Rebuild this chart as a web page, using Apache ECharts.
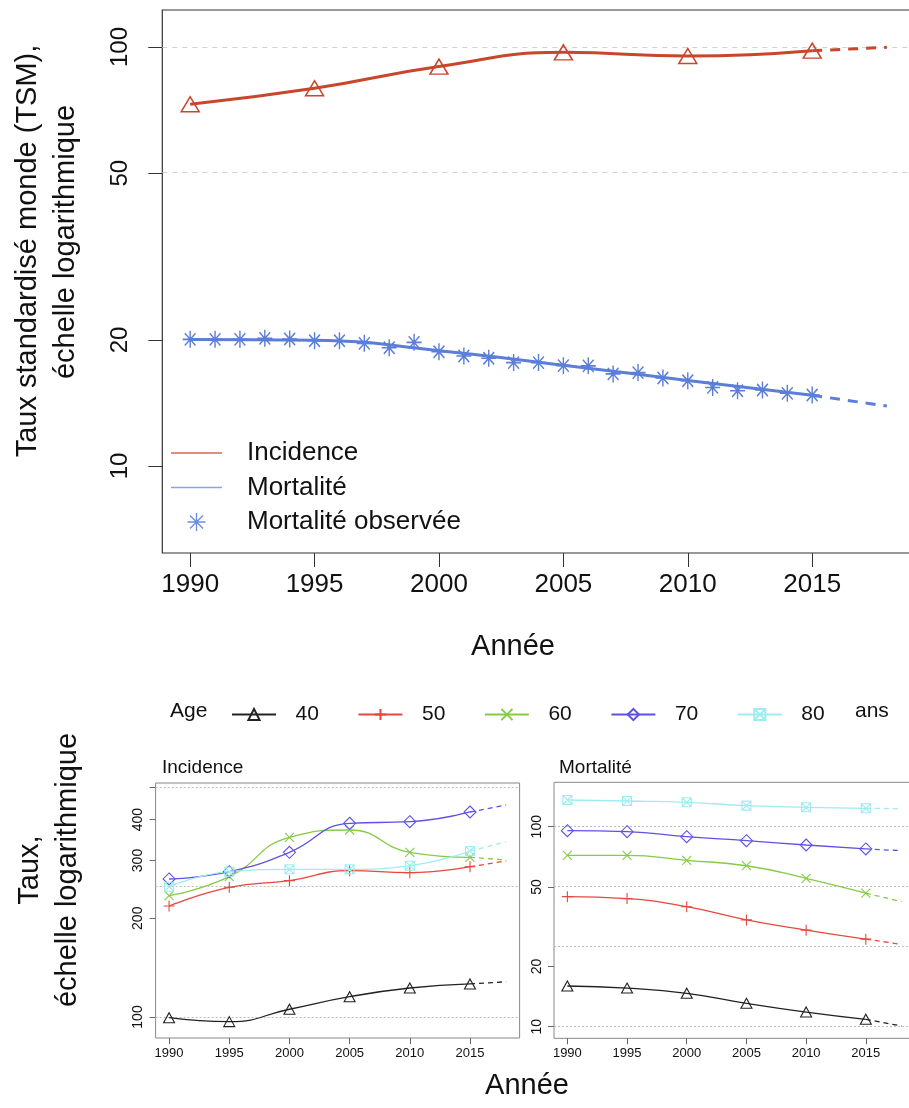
<!DOCTYPE html>
<html><head><meta charset="utf-8">
<script src="https://cdn.jsdelivr.net/npm/echarts@6/dist/echarts.min.js"></script>
<style>html,body{margin:0;padding:0;background:#fff}#c{width:909px;height:1108px}</style>
</head><body><div id="c"></div>
<script>
// ---------- DATA ----------
const years5 = [1990, 1995, 2000, 2005, 2010, 2015];
const yearsObs = [1990,1991,1992,1993,1994,1995,1996,1997,1998,1999,2000,2001,2002,2003,2004,2005,2006,2007,2008,2009,2010,2011,2012,2013,2014,2015];
const yearsProj = [2015, 2018];
const yearTicks = [1990, 1995, 2000, 2005, 2010, 2015];

// top chart (TSM)
const incidence = [73.0, 79.7, 89.8, 97.1, 95.2, 98.0];
const incidenceProjEnd = 99.8;
const mortalityFit = [20.05, 19.95, 18.85, 17.4, 16.0, 14.75];
const mortalityProjEnd = 13.9;
const mortalityObs = [20.06,20.06,20.06,20.17,20.1,19.91,19.91,19.62,19.15,19.73,18.74,18.31,18.08,17.65,17.65,17.36,17.34,16.59,16.71,16.22,15.98,15.40,15.12,15.18,14.91,14.77];
const topTicks = [10, 20, 50, 100];
const topGridVals = [50, 100];

// bottom panels by age
const ages = ['40', '50', '60', '70', '80'];
const inc40 = [99.5, 96.8, 105.6, 115.3, 122.6, 126.1];
const inc50 = [218, 248.6, 260.4, 279.3, 275.4, 287.2];
const inc60 = [234.4, 267.8, 353.1, 371.6, 317.8, 306.8];
const inc70 = [263.5, 277.3, 317.8, 389.5, 393.9, 421.7];
const inc80 = [249.6, 277.3, 282, 282, 289.2, 320.7];
const incProjEnd = [128.1, 299, 301.1, 443, 342.2];
const mor40 = [15.98, 15.6, 14.69, 13.09, 11.84, 10.89];
const mor50 = [44.7, 43.7, 39.8, 34.2, 30.4, 27.4];
const mor60 = [71.9, 71.9, 67.9, 63.8, 55.2, 46.5];
const mor70 = [95.5, 94.4, 89.1, 85.1, 81, 77.4];
const mor80 = [136, 134.4, 132.4, 127.4, 125, 123.6];
const morProjEnd = [10.08, 25.8, 42.2, 75.9, 123];
const incTicks = [100, 200, 300, 400, 500];
const incLabels = [100, 200, 300, 400];
const incGridVals = [100, 250, 500];
const morTicks = [10, 20, 50, 100];
const morGridVals = [10, 25, 50, 100];

// ---------- STYLE ----------
const FONT = '"Liberation Sans", Arial, Helvetica, sans-serif';
const cInc = '#C8472B', cMor = '#5B7ED8';
const ageColors = ['#222222', '#E8473D', '#85CB45', '#5E52E6', '#9DEDF0'];
const ageSymbols = ['triangle', 'path://M0,-1L0,1M-1,0L1,0', 'path://M-1,-1L1,1M-1,1L1,-1', 'diamond',
  'path://M-1,-1L1,-1L1,1L-1,1Z M-1,-1L1,1 M1,-1L-1,1'];
const ageSizes = [[11, 10], 11, 9, [12, 12], 9];
const asterisk = 'path://M0,-1L0,1M-1,0L1,0M-0.72,-0.72L0.72,0.72M-0.72,0.72L0.72,-0.72';
const L = v => Math.log10(v);
const fmtLog = v => String(Math.round(Math.pow(10, v)));

const incArr = [inc40, inc50, inc60, inc70, inc80];
const morArr = [mor40, mor50, mor60, mor70, mor80];

function gridLines(idx, vals, type, color) {
  return {
    type: 'line', xAxisIndex: idx, yAxisIndex: idx, data: [], silent: true, z: 1,
    markLine: {
      silent: true, symbol: ['none', 'none'], label: { show: false }, animation: false, z: 1,
      lineStyle: { color: color, type: type, width: 1 },
      emphasis: { disabled: true },
      data: vals.map(v => ({ yAxis: L(v) }))
    }
  };
}

function ageSeries(idx, arrs, projEnds) {
  const out = [];
  arrs.forEach((arr, i) => {
    out.push({
      type: 'line', name: ages[i], xAxisIndex: idx, yAxisIndex: idx,
      data: years5.map((y, k) => [y, L(arr[k])]),
      smooth: 0.5, symbol: ageSymbols[i], symbolSize: ageSizes[i], showSymbol: true,
      lineStyle: { color: ageColors[i], width: 1.3 },
      itemStyle: { color: 'rgba(255,255,255,0)', borderColor: ageColors[i], borderWidth: 1.1 },
      emphasis: { disabled: true }, z: 3
    });
    out.push({
      type: 'line', xAxisIndex: idx, yAxisIndex: idx,
      data: [[yearsProj[0], L(arr[arr.length - 1])], [yearsProj[1], L(projEnds[i])]],
      symbol: 'none', lineStyle: { color: ageColors[i], width: 1.3, type: [5, 4] },
      emphasis: { disabled: true }, z: 3
    });
  });
  return out;
}

function xAxisCfg(idx, fs, tickLen, margin, color) {
  return {
    type: 'value', gridIndex: idx, min: 1988.88, max: 2019.12,
    axisLine: { show: false }, splitLine: { show: false },
    axisTick: { show: true, customValues: yearTicks, length: tickLen, lineStyle: { color: color, width: 1 } },
    axisLabel: { customValues: yearTicks, fontSize: fs, color: '#111', margin: margin, fontFamily: FONT, formatter: v => String(v) }
  };
}
function yAxisCfg(idx, min, max, ticks, labels, fs, tickLen, margin, color) {
  return {
    type: 'value', gridIndex: idx, min: min, max: max,
    axisLine: { show: false }, splitLine: { show: false },
    axisTick: { show: true, customValues: ticks.map(L), length: tickLen, lineStyle: { color: color, width: 1 } },
    axisLabel: { customValues: labels.map(L), formatter: fmtLog, rotate: 90, fontSize: fs, color: '#111', margin: margin, fontFamily: FONT }
  };
}

const series = [
  gridLines(0, topGridVals, [5, 5], '#d0d0d0'),
  gridLines(1, incGridVals, [2, 2], '#bdbdbd'),
  gridLines(2, morGridVals, [2, 2], '#bdbdbd'),
  {
    type: 'line', name: 'Incidence', xAxisIndex: 0, yAxisIndex: 0,
    data: years5.map((y, k) => [y, L(incidence[k])]), smooth: 0.5, symbol: 'none',
    lineStyle: { color: cInc, width: 3 }, itemStyle: { color: cInc }, emphasis: { disabled: true }, z: 3
  },
  {
    type: 'line', xAxisIndex: 0, yAxisIndex: 0,
    data: [[yearsProj[0], L(incidence[incidence.length - 1])], [yearsProj[1], L(incidenceProjEnd)]],
    symbol: 'none', lineStyle: { color: cInc, width: 3, type: [10, 8] }, emphasis: { disabled: true }, z: 3
  },
  {
    type: 'scatter', xAxisIndex: 0, yAxisIndex: 0,
    data: years5.map((y, k) => [y, L(incidence[k])]), symbol: 'triangle', symbolSize: [18, 15],
    itemStyle: { color: 'rgba(255,255,255,0)', borderColor: cInc, borderWidth: 1.5, opacity: 1 },
    emphasis: { disabled: true }, z: 4
  },
  {
    type: 'line', name: 'Mortalité', xAxisIndex: 0, yAxisIndex: 0,
    data: years5.map((y, k) => [y, L(mortalityFit[k])]), smooth: 0.5, symbol: 'none',
    lineStyle: { color: cMor, width: 3 }, itemStyle: { color: cMor }, emphasis: { disabled: true }, z: 3
  },
  {
    type: 'line', xAxisIndex: 0, yAxisIndex: 0,
    data: [[yearsProj[0], L(mortalityFit[mortalityFit.length - 1])], [yearsProj[1], L(mortalityProjEnd)]],
    symbol: 'none', lineStyle: { color: cMor, width: 3, type: [10, 8] }, emphasis: { disabled: true }, z: 3
  },
  {
    type: 'scatter', name: 'Mortalité observée', xAxisIndex: 0, yAxisIndex: 0,
    data: yearsObs.map((y, k) => [y, L(mortalityObs[k])]), symbol: asterisk, symbolSize: [15, 17],
    itemStyle: { color: 'rgba(255,255,255,0)', borderColor: cMor, borderWidth: 1.5, opacity: 1 },
    emphasis: { disabled: true }, z: 4
  }
].concat(ageSeries(1, incArr, incProjEnd), ageSeries(2, morArr, morProjEnd));

const option = {
  animation: false,
  textStyle: { fontFamily: FONT },
  grid: [
    { left: 162.3, top: 10, width: 752.4, height: 543, show: true, borderColor: '#333', borderWidth: 1.2, outerBoundsMode: 'none', containLabel: false },
    { left: 155.6, top: 783, width: 364, height: 255, show: true, borderColor: '#888', borderWidth: 1, outerBoundsMode: 'none', containLabel: false },
    { left: 554, top: 782.3, width: 361, height: 256, show: true, borderColor: '#888', borderWidth: 1, outerBoundsMode: 'none', containLabel: false }
  ],
  xAxis: [
    xAxisCfg(0, 26, 14, 19, '#333'),
    xAxisCfg(1, 13, 6, 9, '#666'),
    xAxisCfg(2, 13, 6, 9, '#666')
  ],
  yAxis: [
    yAxisCfg(0, 0.7924, 2.0883, topTicks, topTicks, 24, 14, 30, '#333'),
    yAxisCfg(1, 1.936, 2.7134, incTicks, incLabels, 14, 6, 10, '#666'),
    yAxisCfg(2, 0.942, 2.222, morTicks, morTicks, 14, 6, 10, '#666')
  ],
  legend: [
    {
      orient: 'vertical', left: 171, top: 440, padding: 0, itemWidth: 51, itemHeight: 18, itemGap: 8.5,
      selectedMode: false,
      textStyle: { fontSize: 26, color: '#111', lineHeight: 18, padding: [0, 0, 0, 20], fontFamily: FONT },
      data: [
        { name: 'Incidence', icon: 'path://M0,0L50,0L50,1.4L0,1.4Z', itemStyle: { color: '#D9694F', borderWidth: 0 } },
        { name: 'Mortalité', icon: 'path://M0,0L50,0L50,1.4L0,1.4Z', itemStyle: { color: '#8AA3E8', borderWidth: 0 } },
        { name: 'Mortalité observée', icon: asterisk, itemStyle: { color: 'rgba(255,255,255,0)', borderColor: '#6F8DE0', borderWidth: 1.4 } }
      ]
    },
    {
      orient: 'horizontal', left: 231, top: 704, padding: 0, itemWidth: 44, itemHeight: 14, itemGap: 38.6,
      selectedMode: false,
      textStyle: { fontSize: 21, color: '#111', lineHeight: 14, padding: [0, 0, 0, 14.5], fontFamily: FONT },
      data: ages
    }
  ],
  graphic: [
    { type: 'text', x: 28, y: 251, rotation: Math.PI / 2, style: { text: 'Taux standardisé monde (TSM),', fontSize: 29, fontFamily: FONT, fill: '#111', align: 'center', verticalAlign: 'middle' } },
    { type: 'text', x: 66, y: 242, rotation: Math.PI / 2, style: { text: 'échelle logarithmique', fontSize: 29, fontFamily: FONT, fill: '#111', align: 'center', verticalAlign: 'middle' } },
    { type: 'text', x: 513, y: 647, style: { text: 'Année', fontSize: 29, fontFamily: FONT, fill: '#111', align: 'center', verticalAlign: 'middle' } },
    { type: 'text', x: 170, y: 711, style: { text: 'Age', fontSize: 21, fontFamily: FONT, fill: '#111', align: 'left', verticalAlign: 'middle' } },
    { type: 'text', x: 855, y: 711, style: { text: 'ans', fontSize: 21, fontFamily: FONT, fill: '#111', align: 'left', verticalAlign: 'middle' } },
    { type: 'text', x: 162, y: 768, style: { text: 'Incidence', fontSize: 19, fontFamily: FONT, fill: '#111', align: 'left', verticalAlign: 'middle' } },
    { type: 'text', x: 559, y: 768, style: { text: 'Mortalité', fontSize: 19, fontFamily: FONT, fill: '#111', align: 'left', verticalAlign: 'middle' } },
    { type: 'text', x: 30, y: 870, rotation: Math.PI / 2, style: { text: 'Taux,', fontSize: 29, fontFamily: FONT, fill: '#111', align: 'center', verticalAlign: 'middle' } },
    { type: 'text', x: 68, y: 870, rotation: Math.PI / 2, style: { text: 'échelle logarithmique', fontSize: 29, fontFamily: FONT, fill: '#111', align: 'center', verticalAlign: 'middle' } },
    { type: 'text', x: 527, y: 1086, style: { text: 'Année', fontSize: 29, fontFamily: FONT, fill: '#111', align: 'center', verticalAlign: 'middle' } }
  ],
  series: series
};
const chart = echarts.init(document.getElementById('c'), null, { renderer: 'canvas', width: 909, height: 1108 });
chart.setOption(option);
</script>
</body></html>
